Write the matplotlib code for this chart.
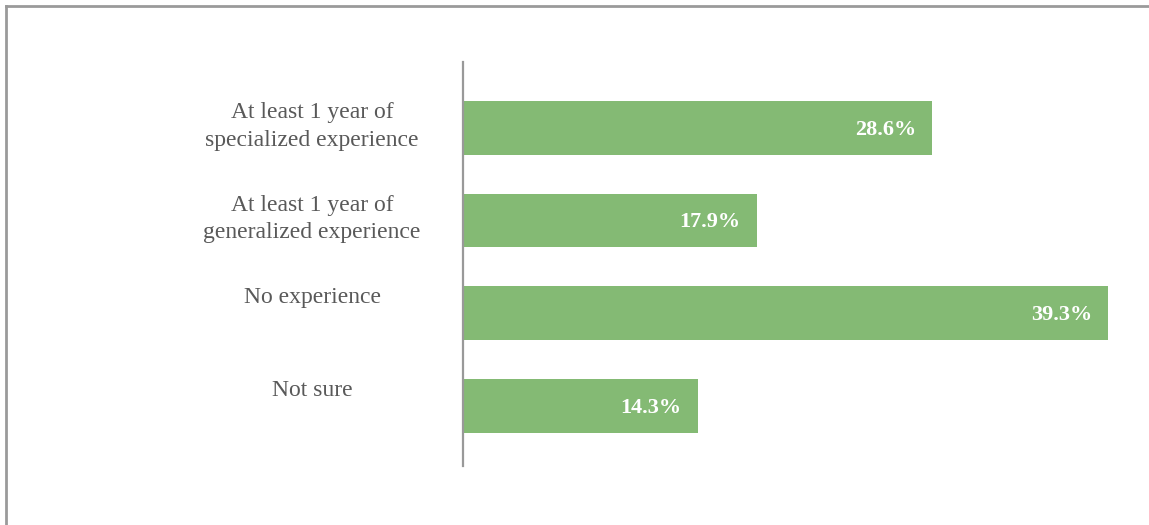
import matplotlib
matplotlib.use('Agg')
import matplotlib.pyplot as plt
from matplotlib.lines import Line2D
import numpy as np

# Data
categories = ['At least 1 year of\nspecialized experience',
              'At least 1 year of\ngeneralized experience',
              'No experience',
              'Not sure']
values = [28.6, 17.9, 39.3, 14.3]

W, H = 1149, 525
fig = plt.figure(figsize=(W / 100, H / 100), dpi=100)
fig.patch.set_facecolor('white')

# axes area in pixels: x 463..1108, y 62..466
ax = fig.add_axes([463 / W, 1 - 466 / H, (1108 - 463) / W, (466 - 62) / H])

y = np.arange(len(categories))
bar_h = 0.58
ax.barh(y, values, height=bar_h, color='#84ba74', zorder=2)
ax.set_xlim(0, 39.3)
ax.set_ylim(3.65, -0.71)

for i, v in enumerate(values):
    ax.annotate(f'{v}%', xy=(v, i), xytext=(-16, -2), textcoords='offset pixels',
                ha='right', va='center', color='white', fontsize=16,
                fontweight='bold', family='Liberation Serif')

# category labels, placed near the top of each bar
for i, cat in enumerate(categories):
    ax.annotate(cat, xy=(0, i - bar_h / 2), xycoords='data',
                xytext=(-151, -1), textcoords='offset pixels',
                ha='center', va='top', color='#595959', fontsize=17,
                family='Liberation Serif', linespacing=1.42,
                annotation_clip=False)

ax.set_xticks([])
ax.set_yticks([])
for s in ['top', 'right', 'bottom']:
    ax.spines[s].set_visible(False)
ax.spines['left'].set_color('#999999')
ax.spines['left'].set_linewidth(1.6)

# outer frame (top and left only)
fig.add_artist(Line2D([6 / W, 1], [1 - 6 / H, 1 - 6 / H], color='#9a9a9a', lw=2,
                      transform=fig.transFigure))
fig.add_artist(Line2D([6 / W, 6 / W], [0, 1 - 6 / H], color='#9a9a9a', lw=2,
                      transform=fig.transFigure))

fig.savefig('out.png', dpi=100, facecolor='white')
